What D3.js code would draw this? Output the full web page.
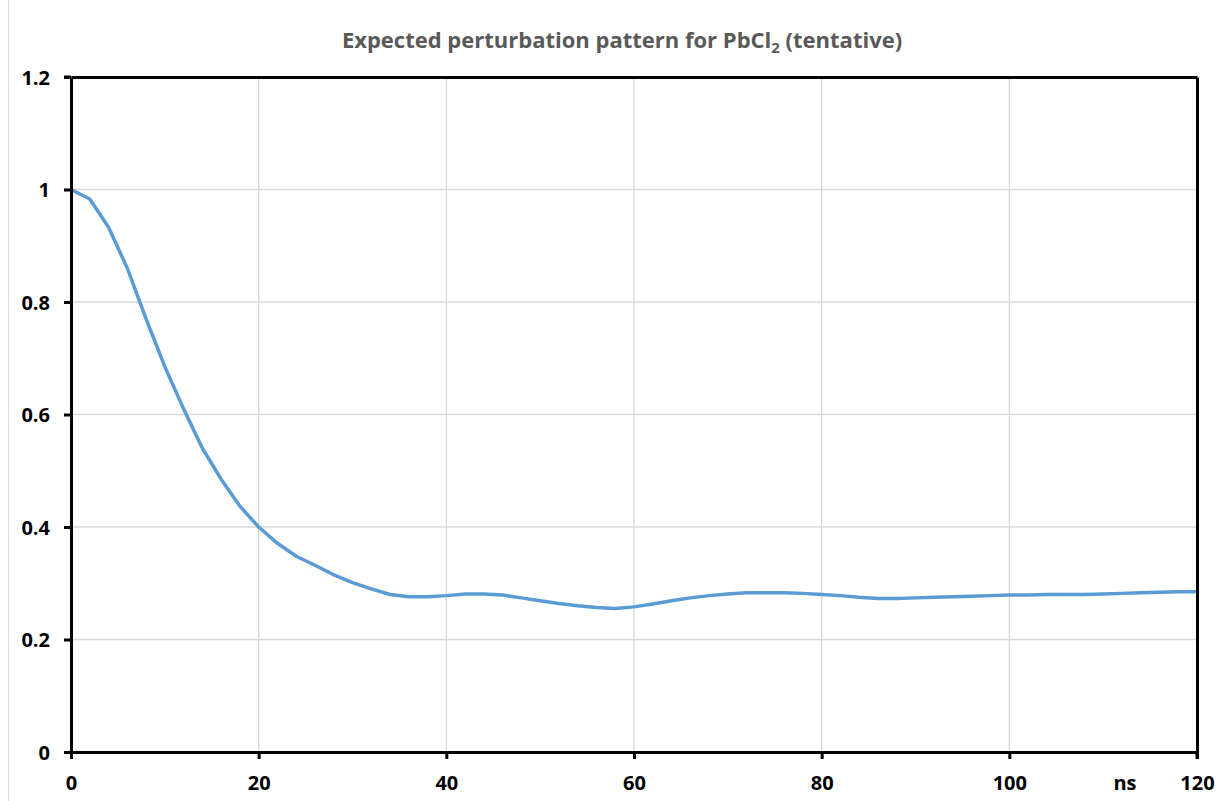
<!DOCTYPE html>
<html><head><meta charset="utf-8">
<script src="https://cdn.jsdelivr.net/npm/d3@7"></script>
<style>body{margin:0;background:#fff}svg{display:block}</style>
</head><body>
<svg id="c" width="1222" height="801"></svg>
<script>
const times = [0,2,4,6,8,10,12,14,16,18,20,22,24,26,28,30,32,34,36,38,40,42,44,46,48,50,52,54,56,58,60,62,64,66,68,70,72,74,76,78,80,82,84,86,88,90,92,94,96,98,100,102,104,106,108,110,112,114,116,118,120];
const values = [1.0,0.983,0.933,0.860,0.770,0.685,0.610,0.540,0.485,0.437,0.400,0.371,0.348,0.332,0.315,0.301,0.290,0.280,0.276,0.276,0.278,0.281,0.281,0.279,0.274,0.269,0.264,0.260,0.257,0.255,0.258,0.263,0.269,0.274,0.278,0.281,0.283,0.283,0.283,0.282,0.280,0.278,0.275,0.273,0.273,0.274,0.275,0.276,0.277,0.278,0.279,0.279,0.280,0.280,0.280,0.281,0.282,0.283,0.284,0.285,0.285];
const xTicks = [0,20,40,60,80,100,120];
const yTicks = [0,0.2,0.4,0.6,0.8,1.0,1.2];
const yTickLabels = ["0","0.2","0.4","0.6","0.8","1","1.2"];

const svg = d3.select("#c");
const L=71, R=1197, T=77, B=752;
const x = d3.scaleLinear().domain([0,120]).range([L,R]);
const y = d3.scaleLinear().domain([0,1.2]).range([B,T]);

// outer frame line
svg.append("line").attr("x1",8.5).attr("x2",8.5).attr("y1",0).attr("y2",801).attr("stroke","#d9d9d9").attr("stroke-width",1);

// gridlines
svg.append("g").selectAll("line").data(xTicks.slice(1,-1)).join("line")
  .attr("x1",d=>x(d)).attr("x2",d=>x(d)).attr("y1",T).attr("y2",B)
  .attr("stroke","#d9d9d9").attr("stroke-width",1.3);
svg.append("g").selectAll("line").data(yTicks.slice(1,-1)).join("line")
  .attr("x1",L).attr("x2",R).attr("y1",d=>y(d)).attr("y2",d=>y(d))
  .attr("stroke","#d9d9d9").attr("stroke-width",1.3);

// line
svg.append("path").datum(times.map((t,i)=>[t,values[i]]))
  .attr("fill","none").attr("stroke","#5b9bd5").attr("stroke-width",3.5)
  .attr("stroke-linejoin","round")
  .attr("d",d3.line().x(d=>x(d[0])).y(d=>y(d[1])));

// axes
const font = "'Open Sans', 'Liberation Sans', sans-serif";
const fs = 20;
const xAxis = svg.append("g").attr("transform",`translate(0,${B})`)
  .call(d3.axisBottom(x).tickValues(xTicks).tickSize(7).tickSizeOuter(0).tickFormat(d3.format("d")));
const yAxis = svg.append("g").attr("transform",`translate(${L},0)`)
  .call(d3.axisLeft(y).tickValues(yTicks).tickSize(7).tickSizeOuter(0).tickFormat((d,i)=>yTickLabels[i]));
// top & right frame
const topAxis = svg.append("g").attr("transform",`translate(0,${T})`)
  .call(d3.axisTop(x).tickValues([]).tickSizeOuter(0));
const rightAxis = svg.append("g").attr("transform",`translate(${R},0)`)
  .call(d3.axisRight(y).tickValues([]).tickSizeOuter(0));
[xAxis,yAxis,topAxis,rightAxis].forEach(g=>{
  g.selectAll(".domain").attr("stroke","#000").attr("stroke-width",3);
  g.selectAll(".tick line").attr("stroke","#000").attr("stroke-width",3);
  g.selectAll("text").attr("fill","#000").attr("font-family",font).attr("font-weight","bold").attr("font-size",fs);
});
xAxis.selectAll("text").attr("dy",0).attr("y",38);
yAxis.selectAll("text").attr("x",-21).attr("dy","0.36em");
// right axis extends below bottom with tick
svg.append("line").attr("x1",R).attr("x2",R).attr("y1",B).attr("y2",B+7).attr("stroke","#000").attr("stroke-width",3);
svg.append("line").attr("x1",L-7).attr("x2",L).attr("y1",T).attr("y2",T).attr("stroke","#000").attr("stroke-width",3);

// ns label
svg.append("text").attr("x",1125).attr("y",790).attr("text-anchor","middle")
  .attr("font-family",font).attr("font-weight","bold").attr("font-size",fs).text("ns");

// title
const title = svg.append("text").attr("x",622).attr("y",48).attr("text-anchor","middle")
  .attr("font-family",font).attr("font-weight","bold").attr("font-size",22).attr("fill","#595959");
title.append("tspan").text("Expected perturbation pattern for PbCl");
title.append("tspan").attr("font-size",15).attr("dy",5).text("2");
title.append("tspan").attr("dy",-5).text(" (tentative)");
</script>
</body></html>
